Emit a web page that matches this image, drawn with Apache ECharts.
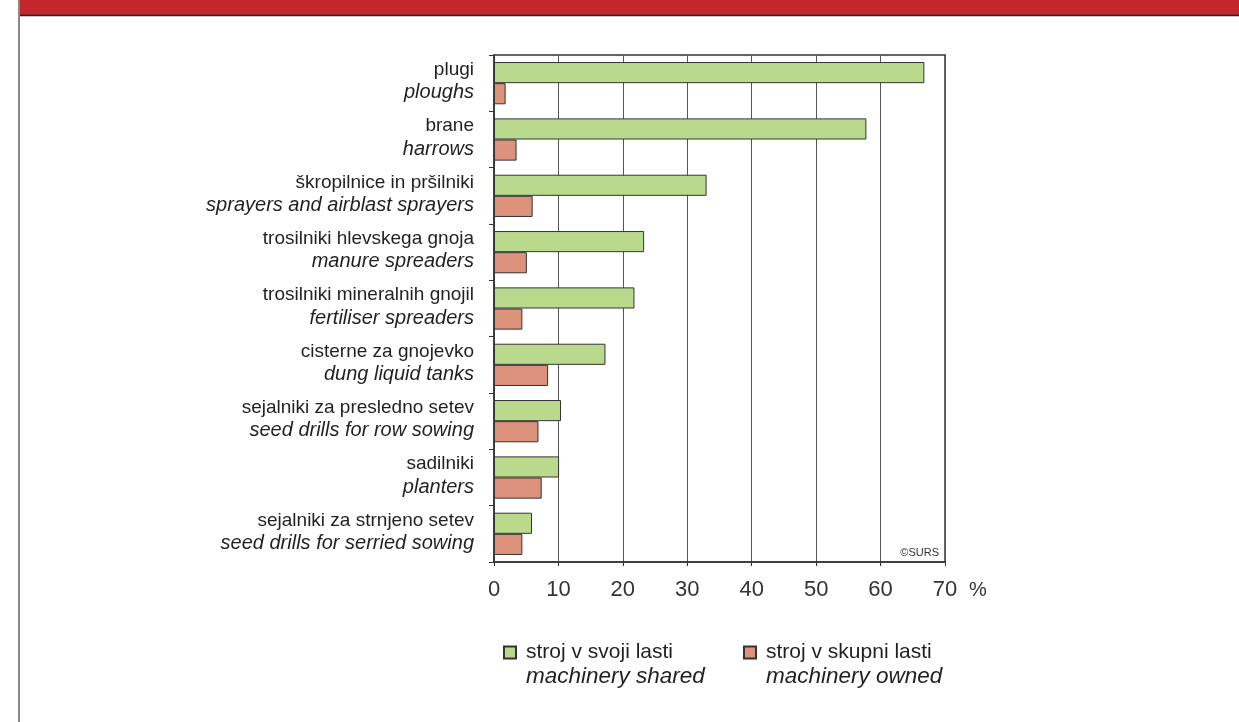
<!DOCTYPE html>
<html>
<head>
<meta charset="utf-8">
<script src="https://cdn.jsdelivr.net/npm/echarts@6/dist/echarts.min.js"></script>
<style>
  html, body { margin: 0; padding: 0; background: #fff; }
  #echarts-wrapper { width: 1239px; height: 722px; }
</style>
</head>
<body>
<div id="echarts-wrapper"></div>
<script>
// categories: slovene name + english name (top to bottom)
var categoriesSl = ['plugi', 'brane', 'škropilnice in pršilniki', 'trosilniki hlevskega gnoja',
  'trosilniki mineralnih gnojil', 'cisterne za gnojevko', 'sejalniki za presledno setev',
  'sadilniki', 'sejalniki za strnjeno setev'];
var categoriesEn = ['ploughs', 'harrows', 'sprayers and airblast sprayers', 'manure spreaders',
  'fertiliser spreaders', 'dung liquid tanks', 'seed drills for row sowing',
  'planters', 'seed drills for serried sowing'];

// % values
var sharedValues = [66.8, 57.8, 33.0, 23.3, 21.8, 17.3, 10.4, 10.1, 5.9];
var ownedValues = [1.8, 3.5, 6.0, 5.1, 4.4, 8.4, 6.9, 7.4, 4.4];

var seriesNamesSl = ['stroj v svoji lasti', 'stroj v skupni lasti'];
var seriesNamesEn = ['machinery shared', 'machinery owned'];

var xTicks = [0, 10, 20, 30, 40, 50, 60, 70];

var font = '"Liberation Sans", Arial, Helvetica, sans-serif';
var textColor = '#231f20';

var myChart = echarts.init(document.getElementById('echarts-wrapper'));

function legendFormatter(name) {
  var i = seriesNamesSl.indexOf(name);
  return '{c| }\n{a|' + seriesNamesSl[i] + '}\n{b|' + seriesNamesEn[i] + '}';
}

var legendRich = {
  a: { fontSize: 21, lineHeight: 24, color: textColor, fontFamily: font, padding: [0, 0, 0, 5] },
  b: { fontSize: 22.5, lineHeight: 24, color: textColor, fontFamily: font, fontStyle: 'italic', padding: [0, 0, 0, 5] },
  c: { fontSize: 19, lineHeight: 24 }
};

var option = {
  animation: false,
  backgroundColor: '#fff',
  grid: {
    left: 494, right: 294, top: 55, bottom: 160,
    show: true, borderColor: '#333', borderWidth: 1.5, containLabel: false
  },
  legend: [{
    data: [seriesNamesSl[0]],
    left: 503, top: 619, padding: 0,
    icon: 'rect', itemWidth: 12, itemHeight: 12,
    selectedMode: false,
    formatter: legendFormatter,
    textStyle: { rich: legendRich }
  }, {
    data: [seriesNamesSl[1]],
    left: 743, top: 619, padding: 0,
    icon: 'rect', itemWidth: 12, itemHeight: 12,
    selectedMode: false,
    formatter: legendFormatter,
    textStyle: { rich: legendRich }
  }],
  xAxis: {
    type: 'value',
    min: xTicks[0], max: xTicks[xTicks.length - 1], interval: 10,
    axisLine: { show: true, lineStyle: { color: '#333', width: 1.5 } },
    axisTick: { show: true, length: 4, lineStyle: { color: '#333' } },
    axisLabel: { fontSize: 22, color: '#333', margin: 17, fontFamily: font },
    splitLine: { show: true, lineStyle: { color: '#555', width: 1 } }
  },
  yAxis: {
    type: 'category',
    inverse: true,
    data: categoriesSl,
    axisLine: { show: true, lineStyle: { color: '#333', width: 1.5 } },
    axisTick: { show: true, length: 5, lineStyle: { color: '#333' } },
    axisLabel: {
      margin: 20,
      padding: [0, 0, 4, 0],
      formatter: function (value, idx) {
        return '{a|' + value + '}\n{b|' + categoriesEn[idx] + '}';
      },
      rich: {
        a: { fontSize: 19, lineHeight: 23, color: textColor, fontFamily: font, align: 'right' },
        b: { fontSize: 20, lineHeight: 23, color: textColor, fontFamily: font, fontStyle: 'italic', align: 'right' }
      }
    },
    splitLine: { show: false }
  },
  series: [{
    name: seriesNamesSl[0],
    type: 'bar',
    data: sharedValues,
    barGap: '0%',
    barCategoryGap: '25%',
    itemStyle: { color: '#b9da8c', borderColor: '#333', borderWidth: 1 }
  }, {
    name: seriesNamesSl[1],
    type: 'bar',
    data: ownedValues,
    barGap: '0%',
    barCategoryGap: '25%',
    itemStyle: { color: '#dd927b', borderColor: '#333', borderWidth: 1 }
  }],
  graphic: [
    { type: 'line', shape: { x1: 19, y1: 0, x2: 19, y2: 722 }, style: { stroke: '#888', lineWidth: 2 } },
    { type: 'rect', shape: { x: 20, y: 0, width: 1219, height: 15 }, style: { fill: '#c1272d' } },
    { type: 'line', shape: { x1: 20, y1: 15.5, x2: 1239, y2: 15.5 }, style: { stroke: '#222', lineWidth: 1.5 } },
    { type: 'text', x: 939, y: 553, style: { text: '©SURS', fontSize: 11, fill: '#333', fontFamily: font, align: 'right', verticalAlign: 'middle' } },
    { type: 'text', x: 978, y: 590, style: { text: '%', fontSize: 20, fill: '#333', fontFamily: font, align: 'center', verticalAlign: 'middle' } }
  ]
};

myChart.setOption(option);
</script>
</body>
</html>
